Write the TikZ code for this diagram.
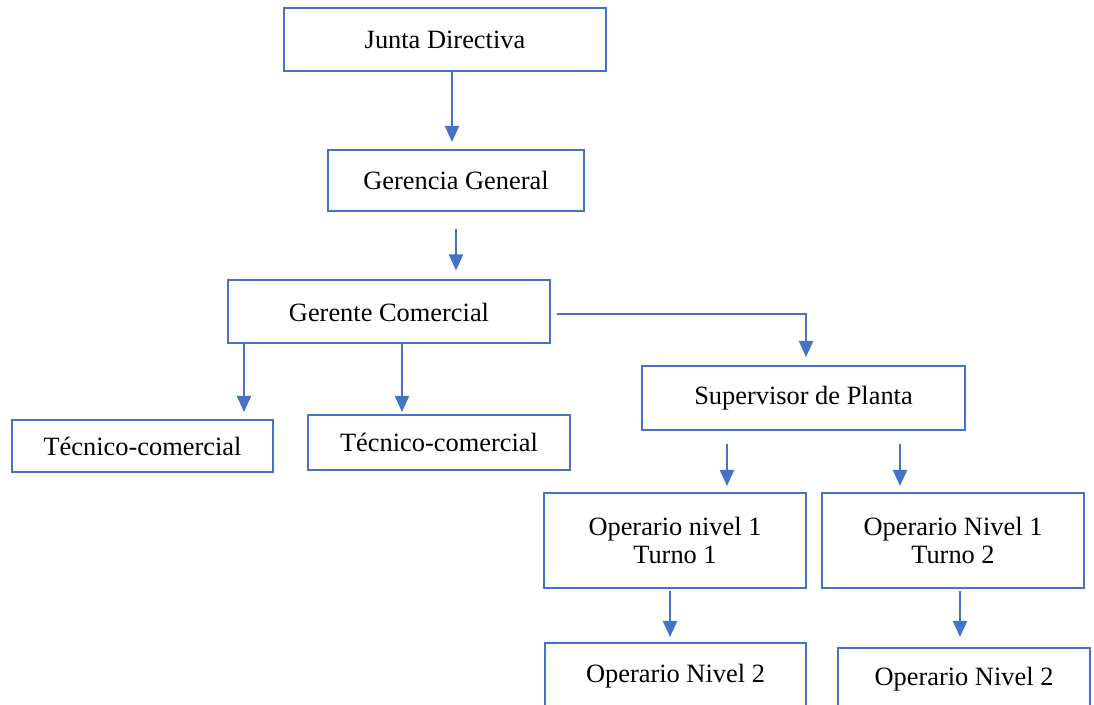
\documentclass[tikz,border=0pt]{standalone}
\usepackage{fontspec}
\setmainfont{Liberation Serif}
\usetikzlibrary{calc,arrows.meta}
\definecolor{wblue}{HTML}{4472C4}
\begin{document}
\begin{tikzpicture}[x=0.5pt,y=-0.5pt,
  box/.style={draw=wblue,line width=1pt,inner sep=0pt,align=center,
    font=\fontsize{13.2}{14}\selectfont},
  arr/.style={draw=wblue,line width=1pt,-{Triangle[width=7pt,length=8pt]}}]
\useasboundingbox (0,0) rectangle (1094,705);
\clip (0,0) rectangle (1094,705);
\fill[white] (0,0) rectangle (1094,705);
\node[box,minimum width=161pt,minimum height=31.5pt] (jd) at (445,39.5) {Junta Directiva};
\node[box,minimum width=128pt,minimum height=30.5pt] (gg) at (456,180.5) {Gerencia General};
\node[box,minimum width=161pt,minimum height=31.5pt] (gc) at (389,312) {Gerente Comercial};
\node[box,minimum width=130.5pt,minimum height=26pt] (tc1) at (142.5,446) {Técnico-comercial};
\node[box,minimum width=131pt,minimum height=27.5pt] (tc2) at (439,442.5) {Técnico-comercial};
\node[box,minimum width=161.5pt,minimum height=32pt] (sp) at (803.5,398) {Supervisor de Planta};
\node[box,minimum width=131pt,minimum height=47.5pt] (o1a) at (675,540.5) {Operario nivel 1\\Turno 1};
\node[box,minimum width=131pt,minimum height=47.5pt] (o1b) at (953,540.5) {Operario Nivel 1\\Turno 2};
\node[box,minimum width=130.5pt,minimum height=33pt] (o2a) at (675.5,676) {\raisebox{3pt}{Operario Nivel 2}};
\node[box,minimum width=126pt,minimum height=32pt] (o2b) at (964,680) {\raisebox{3.5pt}{Operario Nivel 2}};
\draw[arr] ($(jd.south)+(7,0)$) -- ($(gg.north)+(-4,-7)$);
\draw[arr] ($(gg.south)+(0,17)$) -- ($(gc.north)+(67,-9)$);
\draw[arr] ($(gc.south)+(-145,0)$) -- ($(tc1.north)+(101.5,-7)$);
\draw[arr] ($(gc.south)+(13,0)$) -- ($(tc2.north)+(-37,-2)$);
\draw[arr] ($(gc.east)+(6,2)$) -| ($(sp.north)+(2.5,-8)$);
\draw[arr] ($(sp.south)+(-76.5,13)$) -- ($(o1a.north)+(52,-6)$);
\draw[arr] ($(sp.south)+(96.5,13)$) -- ($(o1b.north)+(-53,-6)$);
\draw[arr] ($(o1a.south)+(-5,2)$) -- ($(o2a.north)+(-5.5,-5)$);
\draw[arr] ($(o1b.south)+(7,2)$) -- ($(o2b.north)+(-4,-10)$);
\end{tikzpicture}
\end{document}
